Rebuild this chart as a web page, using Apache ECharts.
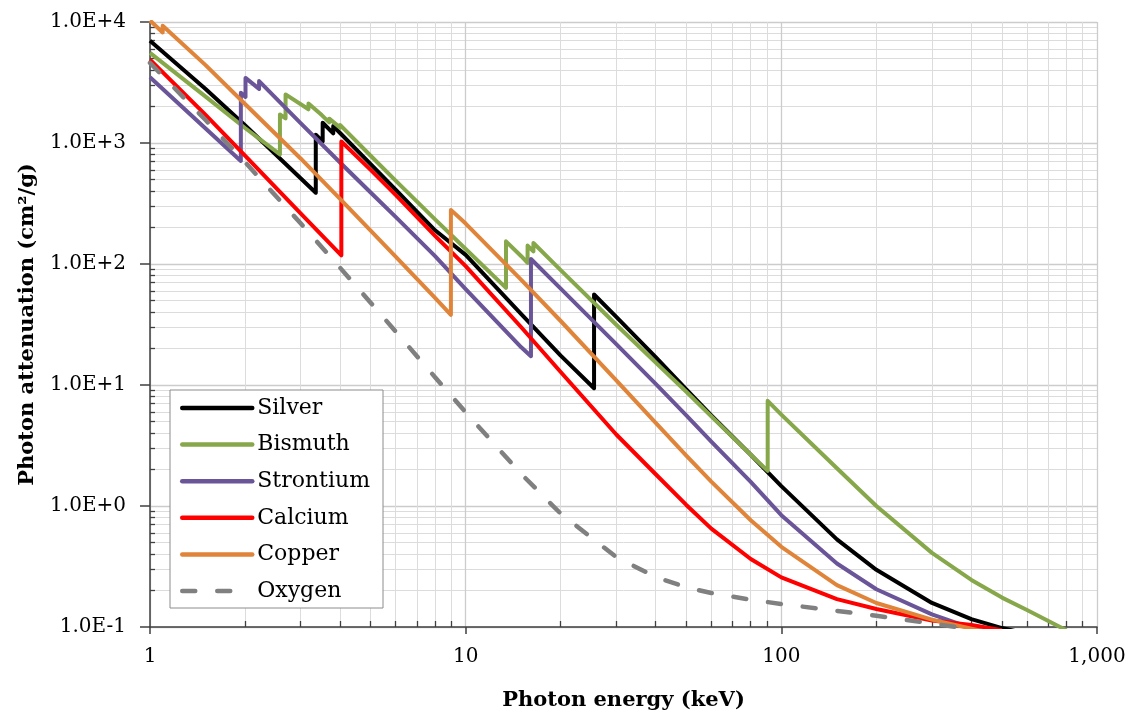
<!DOCTYPE html>
<html><head><meta charset="utf-8">
<script src="https://cdn.jsdelivr.net/npm/echarts@6/dist/echarts.min.js"></script>
<style>html,body{margin:0;padding:0;background:#fff}#c{width:1138px;height:718px}</style>
</head><body><div id="c"></div>
<script>
// ---- data (photon energy in keV, mass attenuation in cm2/g) ----
const seriesNames = ['Silver', 'Bismuth', 'Strontium', 'Calcium', 'Copper', 'Oxygen'];

const silverEnergy = [1, 1.5, 2, 3, 3.351, 3.351, 3.524, 3.524, 3.806, 3.806, 4, 5, 6, 8, 10, 15, 20, 25.51, 25.51, 30, 40, 50, 60, 80, 100, 150, 200, 300, 400, 500, 600];
const silverValue  = [7010, 2790, 1400, 512, 388, 1170, 1030, 1470, 1200, 1380, 1210, 670, 412, 190, 119, 38.5, 17.5, 9.4, 56, 36.5, 17.0, 9.2, 5.6, 2.65, 1.46, 0.53, 0.297, 0.158, 0.116, 0.098, 0.088];

const bismuthEnergy = [1, 1.5, 2, 2.58, 2.58, 2.688, 2.688, 3.177, 3.177, 3.5, 3.696, 3.696, 3.999, 3.999, 5, 6, 8, 10, 13.42, 13.42, 15, 15.71, 15.71, 16.39, 16.39, 20, 30, 40, 50, 60, 80, 90.53, 90.53, 100, 150, 200, 300, 400, 500, 600, 800];
const bismuthValue  = [5550, 2420, 1330, 805, 1720, 1600, 2520, 1900, 2120, 1700, 1480, 1590, 1340, 1410, 785, 488, 234, 133, 63.5, 154, 116, 102, 142, 127, 149, 89, 31.5, 15.3, 8.8, 5.5, 2.65, 1.95, 7.4, 5.7, 2.05, 1.0, 0.41, 0.245, 0.175, 0.138, 0.094];

const strontiumEnergy = [1, 1.5, 1.94, 1.94, 2.007, 2.007, 2.216, 2.216, 3, 4, 5, 6, 8, 10, 15, 16.1, 16.1, 20, 30, 40, 50, 60, 80, 100, 150, 200, 300, 400, 500];
const strontiumValue  = [3500, 1320, 710, 2600, 2400, 3450, 2800, 3250, 1460, 690, 390, 245, 116, 62, 20.5, 17.3, 110, 62.5, 21.8, 10.2, 5.6, 3.4, 1.58, 0.84, 0.335, 0.205, 0.127, 0.098, 0.085];

const calciumEnergy = [1, 1.5, 2, 3, 4.038, 4.038, 5, 6, 8, 10, 15, 20, 30, 40, 50, 60, 80, 100, 150, 200, 300, 400, 500];
const calciumValue  = [4890, 1710, 785, 262, 118, 1030, 600, 372, 171, 96, 30, 12.8, 3.9, 1.83, 1.02, 0.65, 0.365, 0.257, 0.17, 0.141, 0.113, 0.104, 0.094];

const copperEnergy = [1, 1.097, 1.097, 1.5, 2, 3, 4, 5, 6, 8, 8.979, 8.979, 10, 15, 20, 30, 40, 50, 60, 80, 100, 150, 200, 300, 400, 500];
const copperValue  = [10300, 8200, 9300, 4400, 2100, 745, 345, 189, 115, 52.5, 38, 280, 216, 74, 33.8, 10.9, 4.86, 2.61, 1.59, 0.763, 0.46, 0.222, 0.158, 0.115, 0.097, 0.085];

const oxygenEnergy = [1, 1.5, 2, 3, 4, 5, 6, 8, 10, 15, 20, 30, 40, 50, 60, 80, 100, 150, 200, 300, 400];
const oxygenValue  = [4590, 1549, 695, 217, 93.2, 47.9, 27.7, 11.6, 5.95, 1.84, 0.865, 0.378, 0.259, 0.213, 0.191, 0.168, 0.155, 0.136, 0.124, 0.107, 0.0957];

// ---- tick values ----
const xMajorTicks = [1, 10, 100, 1000];
const xMinorTicks = [2, 3, 4, 5, 6, 7, 8, 9, 20, 30, 40, 50, 60, 70, 80, 90, 200, 300, 400, 500, 600, 700, 800, 900];
const yMajorTicks = [0.1, 1, 10, 100, 1000, 10000];
const yMinorTicks = [0.2, 0.3, 0.4, 0.5, 0.6, 0.7, 0.8, 0.9, 2, 3, 4, 5, 6, 7, 8, 9, 20, 30, 40, 50, 60, 70, 80, 90, 200, 300, 400, 500, 600, 700, 800, 900, 2000, 3000, 4000, 5000, 6000, 7000, 8000, 9000];

const seriesData = [
  [silverEnergy, silverValue],
  [bismuthEnergy, bismuthValue],
  [strontiumEnergy, strontiumValue],
  [calciumEnergy, calciumValue],
  [copperEnergy, copperValue],
  [oxygenEnergy, oxygenValue]
];
const colors = ['#000000', '#86A74A', '#6A5598', '#FF0000', '#E0843A', '#808080'];

const FONT = "'DejaVu Serif', serif";
const pairs = (xs, ys) => xs.map((x, i) => [x, ys[i]]);

function yFmt(v) {
  const e = Math.round(Math.log10(v));
  return '1.0E' + (e < 0 ? '-' : '+') + Math.abs(e);
}
function xFmt(v) {
  return Math.round(v).toLocaleString('en-US');
}

const chart = echarts.init(document.getElementById('c'), null, { renderer: 'canvas' });

const option = {
  animation: false,
  backgroundColor: '#ffffff',
  grid: { left: 150, right: 41, top: 22, bottom: 91, containLabel: false },
  legend: {
    orient: 'vertical',
    left: 170, top: 390,
    backgroundColor: '#ffffff',
    borderColor: '#8c8c8c', borderWidth: 1, borderRadius: 0,
    padding: [7, 13, 6, 10],
    itemWidth: 70, itemHeight: 14, itemGap: 14.6,
    itemStyle: { opacity: 0 },
    lineStyle: { width: 4.5, cap: 'round' },
    textStyle: { fontFamily: FONT, fontSize: 22, color: '#000', lineHeight: 22 },
    data: seriesNames
  },
  xAxis: [
    {
      type: 'log', logBase: 10, min: 1, max: 1000, gridIndex: 0, position: 'bottom',
      name: 'Photon energy (keV)', nameLocation: 'middle', nameGap: 63,
      nameTextStyle: { fontFamily: FONT, fontSize: 21, fontWeight: 'bold', color: '#000' },
      axisLine: { show: true, onZero: false, lineStyle: { color: '#404040', width: 1.5 } },
      axisTick: { show: true, inside: false, length: 7, customValues: xMajorTicks, lineStyle: { color: '#404040', width: 1.5 } },
      axisLabel: { show: true, margin: 20, customValues: xMajorTicks, formatter: xFmt, fontFamily: FONT, fontSize: 20, color: '#000' },
      splitLine: { show: true, lineStyle: { color: '#cccccc', width: 1.3 } },
      minorTick: { show: false }, minorSplitLine: { show: false }
    },
    {
      type: 'log', logBase: 10, min: 1, max: 1000, gridIndex: 0, position: 'bottom',
      axisLine: { show: false, onZero: false },
      axisTick: { show: true, inside: true, length: 6, customValues: xMinorTicks, lineStyle: { color: '#404040', width: 1.3 } },
      axisLabel: { show: false },
      splitLine: { show: true, lineStyle: { color: '#dcdcdc', width: 1 } },
      minorTick: { show: false }, minorSplitLine: { show: false }
    }
  ],
  yAxis: [
    {
      type: 'log', logBase: 10, min: 0.1, max: 10000, gridIndex: 0, position: 'left',
      name: 'Photon attenuation (cm²/g)', nameLocation: 'middle', nameGap: 112, nameRotate: 90,
      nameTextStyle: { fontFamily: FONT, fontSize: 21, fontWeight: 'bold', color: '#000' },
      axisLine: { show: true, onZero: false, lineStyle: { color: '#404040', width: 1.5 } },
      axisTick: { show: true, inside: false, length: 10, customValues: yMajorTicks, lineStyle: { color: '#404040', width: 1.5 } },
      axisLabel: { show: true, margin: 24, customValues: yMajorTicks, formatter: yFmt, fontFamily: FONT, fontSize: 20, color: '#000' },
      splitLine: { show: true, lineStyle: { color: '#cccccc', width: 1.3 } },
      minorTick: { show: false }, minorSplitLine: { show: false }
    },
    {
      type: 'log', logBase: 10, min: 0.1, max: 10000, gridIndex: 0, position: 'left',
      axisLine: { show: false, onZero: false },
      axisTick: { show: true, inside: true, length: 5, customValues: yMinorTicks, lineStyle: { color: '#404040', width: 1.3 } },
      axisLabel: { show: false },
      splitLine: { show: true, lineStyle: { color: '#dcdcdc', width: 1 } },
      minorTick: { show: false }, minorSplitLine: { show: false }
    }
  ],
  series: seriesNames.map((name, i) => ({
    name: name,
    type: 'line',
    xAxisIndex: 0, yAxisIndex: 0,
    data: pairs(seriesData[i][0], seriesData[i][1]),
    showSymbol: false, symbol: 'none',
    clip: true,
    color: colors[i],
    lineStyle: i === 5
      ? { color: colors[i], width: 4.5, type: [13, 22], cap: 'round' }
      : { color: colors[i], width: 4, join: 'round' },
    emphasis: { disabled: true },
    z: 10 + i
  }))
};
chart.setOption(option);
</script>
</body></html>
